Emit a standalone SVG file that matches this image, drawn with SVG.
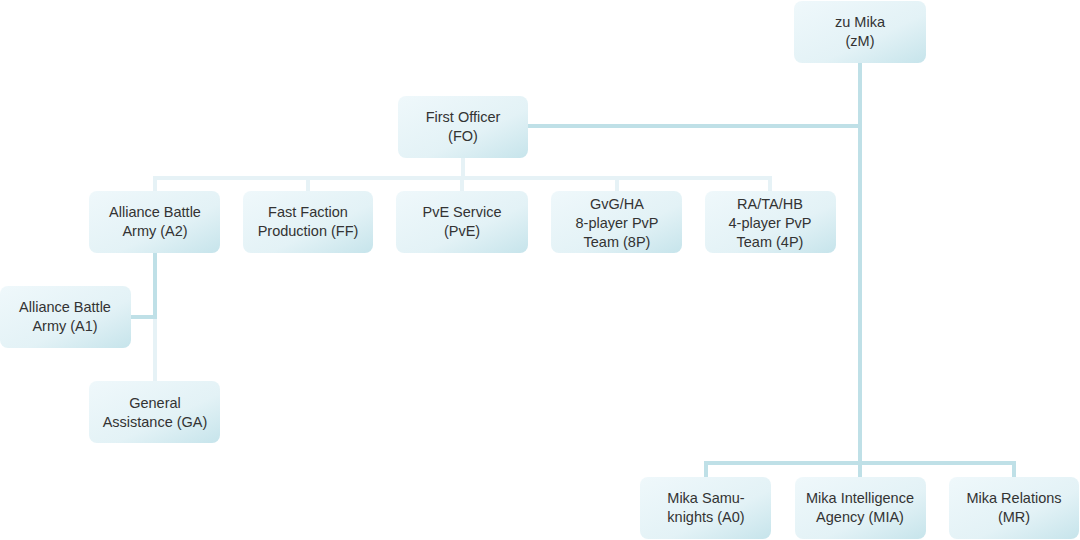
<svg xmlns="http://www.w3.org/2000/svg" width="1080" height="540" viewBox="0 0 1080 540">
<defs>
<linearGradient id="g" x1="0" y1="0" x2="1" y2="1">
<stop offset="0" stop-color="#eff8fb"/>
<stop offset="0.6" stop-color="#e3f2f6"/>
<stop offset="1" stop-color="#c6e4eb"/>
</linearGradient>
</defs>
<style>
.n rect{fill:url(#g);}
.n text{font-family:"Liberation Sans",Arial,sans-serif;font-size:14.5px;fill:#333;text-anchor:middle;}
.c{fill:none;stroke-width:4;stroke-linecap:butt;}
.m{stroke:#bfe0e7;}
.l{stroke:#e6f2f6;}
</style>
<rect width="1080" height="540" fill="#fff"/>
<g id="connectors">
<path class="c l" d="M463 158V178M155 178H770M155 176V191M308 176V191M462 176V191M617 176V191M770 176V191"/>
<path class="c l" d="M155 317V381"/>
<path class="c m" d="M155 253V319M131 317H157"/>
<path class="c m" d="M528 126H860M860 63V465M706 463H1014M706 461V477M1014 461V477M860 463V477"/>
</g>
<g id="zM" class="n"><rect x="794" y="1" width="132" height="62" rx="8"/><text x="860" y="27">zu Mika</text><text x="860" y="46">(zM)</text></g>
<g id="FO" class="n"><rect x="398" y="96" width="130" height="62" rx="8"/><text x="463" y="122">First Officer</text><text x="463" y="141">(FO)</text></g>
<g id="A2" class="n"><rect x="89" y="191" width="131" height="62" rx="8"/><text x="155" y="217">Alliance Battle</text><text x="155" y="236">Army (A2)</text></g>
<g id="FF" class="n"><rect x="243" y="191" width="130" height="62" rx="8"/><text x="308" y="217">Fast Faction</text><text x="308" y="236">Production (FF)</text></g>
<g id="PvE" class="n"><rect x="396" y="191" width="132" height="62" rx="8"/><text x="462" y="217">PvE Service</text><text x="462" y="236">(PvE)</text></g>
<g id="P8" class="n"><rect x="551" y="191" width="131" height="62" rx="8"/><text x="617" y="209">GvG/HA</text><text x="617" y="228">8-player PvP</text><text x="617" y="247">Team (8P)</text></g>
<g id="P4" class="n"><rect x="705" y="191" width="131" height="62" rx="8"/><text x="770" y="209">RA/TA/HB</text><text x="770" y="228">4-player PvP</text><text x="770" y="247">Team (4P)</text></g>
<g id="A1" class="n"><rect x="0" y="286" width="131" height="62" rx="8"/><text x="65" y="312">Alliance Battle</text><text x="65" y="331">Army (A1)</text></g>
<g id="GA" class="n"><rect x="89" y="381" width="131" height="62" rx="8"/><text x="155" y="408">General</text><text x="155" y="427">Assistance (GA)</text></g>
<g id="A0" class="n"><rect x="640" y="477" width="131" height="62" rx="8"/><text x="706" y="503">Mika Samu-</text><text x="706" y="522">knights (A0)</text></g>
<g id="MIA" class="n"><rect x="795" y="477" width="131" height="62" rx="8"/><text x="860" y="503">Mika Intelligence</text><text x="860" y="522">Agency (MIA)</text></g>
<g id="MR" class="n"><rect x="949" y="477" width="130" height="62" rx="8"/><text x="1014" y="503">Mika Relations</text><text x="1014" y="522">(MR)</text></g>
</svg>
